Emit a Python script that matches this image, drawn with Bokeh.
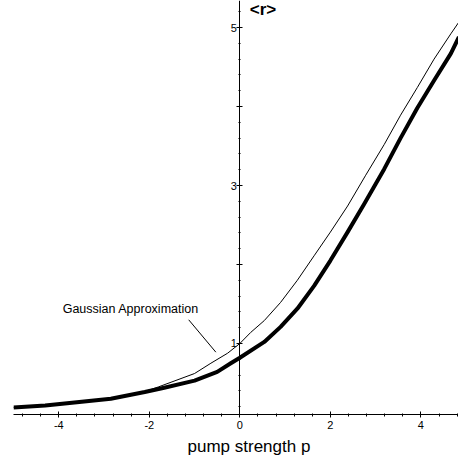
from bokeh.plotting import figure
from bokeh.models import Label, SingleIntervalTicker, Range1d, ColumnDataSource, Title
from bokeh.embed import file_html
from bokeh.resources import INLINE

# exact <r> (thick curve)
p_exact = [-5.0, -4.3, -3.6, -2.85, -2.1, -1.67, -1.0, -0.5, -0.2, 0.0, 0.54, 0.9, 1.27, 1.64,
           2.0, 2.38, 2.74, 3.19, 3.55, 3.92, 4.29, 4.66, 4.84]
r_exact = [0.19, 0.215, 0.255, 0.30, 0.385, 0.44, 0.53, 0.64, 0.75, 0.82, 1.02, 1.21, 1.44, 1.73,
           2.05, 2.41, 2.76, 3.21, 3.60, 3.98, 4.33, 4.67, 4.88]

# Gaussian approximation (thin curve)
p_gauss = [-5.0, -4.3, -3.6, -2.85, -2.1, -1.8, -1.0, -0.64, -0.27, 0.0, 0.24, 0.54, 0.9, 1.27,
           1.64, 2.0, 2.38, 2.78, 3.19, 3.55, 3.92, 4.29, 4.66, 4.84]
r_gauss = [0.19, 0.215, 0.255, 0.30, 0.39, 0.45, 0.62, 0.75, 0.877, 1.0, 1.14, 1.29, 1.52, 1.80,
           2.11, 2.41, 2.74, 3.13, 3.52, 3.89, 4.24, 4.60, 4.92, 5.07]

x_tick_labels = {-4: "-4", -2: "-2", 0: "0", 2: "2", 4: "4"}
y_tick_labels = {1: "1", 2: "", 3: "3", 4: "", 5: "5"}

FONT = "Liberation Sans"

p = figure(width=458, height=462, output_backend="svg", toolbar_location=None,
           x_range=Range1d(-5.0, 4.83), y_range=Range1d(0.101, 5.342),
           min_border_left=13, min_border_right=0, min_border_top=0, min_border_bottom=48)
p.outline_line_color = None
p.grid.visible = False
p.background_fill_color = "white"
p.border_fill_color = "white"

p.line(p_gauss, r_gauss, line_color="black", line_width=1, line_join="round")
p.line(p_exact, r_exact, line_color="black", line_width=4, line_join="round")

# x axis
xa = p.xaxis[0]
xa.ticker = SingleIntervalTicker(interval=2, num_minor_ticks=5)
xa.major_label_overrides = x_tick_labels
xa.major_tick_in = 3
xa.major_tick_out = 3
xa.minor_tick_in = 1
xa.minor_tick_out = 2
xa.major_label_standoff = 3
xa.major_label_text_font = FONT
xa.major_label_text_font_size = "11px"
xa.major_label_text_color = "black"
xa.axis_line_color = "black"

# y axis at p = 0
ya = p.yaxis[0]
ya.fixed_location = 0
ya.ticker = SingleIntervalTicker(interval=1, num_minor_ticks=5)
ya.major_label_overrides = y_tick_labels
ya.major_tick_in = 3
ya.major_tick_out = 3
ya.minor_tick_in = 1
ya.minor_tick_out = 1
ya.major_label_standoff = 0
ya.major_label_text_font = FONT
ya.major_label_text_font_size = "11px"
ya.major_label_text_color = "black"
ya.axis_line_color = "black"

p.add_layout(Label(x=0.51, y=5.23, text="<r>", text_font=FONT, text_font_size="17px",
                   text_font_style="bold", text_align="center", text_baseline="middle",
                   text_color="black"))
p.add_layout(Label(x=-2.41, y=1.44, text="Gaussian Approximation", text_font=FONT,
                   text_font_size="12.5px", text_align="center", text_baseline="middle",
                   text_color="black"))

p.add_layout(Title(text="pump strength p", align="left", offset=174, text_font=FONT,
                   text_font_size="17px", text_font_style="normal", text_color="black",
                   standoff=6), "below")

# annotation leader line
lead = ColumnDataSource(dict(x0=[-1.13], y0=[1.30], x1=[-0.53], y1=[0.89]))
p.segment("x0", "y0", "x1", "y1", source=lead, line_color="black", line_width=1)

open("out.html", "w").write(file_html(p, INLINE))
